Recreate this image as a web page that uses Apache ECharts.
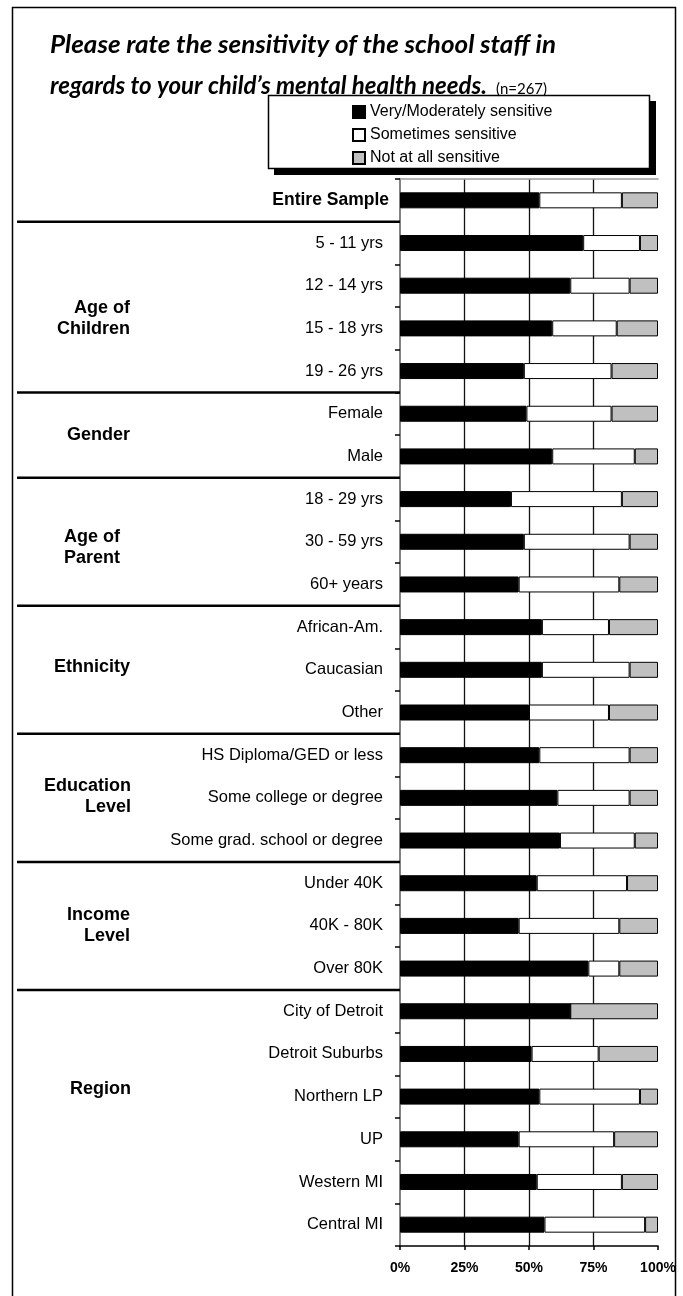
<!DOCTYPE html>
<html>
<head>
<meta charset="utf-8">
<script src="https://cdn.jsdelivr.net/npm/echarts@6/dist/echarts.min.js"></script>
<style>
  html, body { margin: 0; padding: 0; background: #fff; }
  #chart { width: 683px; height: 1296px; }
</style>
</head>
<body>
<div id="chart"></div>
<script>
// Survey responses: sensitivity of school staff to the child's mental health needs (n=267)
const categories = [
  'Entire Sample',
  '5 - 11 yrs', '12 - 14 yrs', '15 - 18 yrs', '19 - 26 yrs',
  'Female', 'Male',
  '18 - 29 yrs', '30 - 59 yrs', '60+ years',
  'African-Am.', 'Caucasian', 'Other',
  'HS Diploma/GED or less', 'Some college or degree', 'Some grad. school or degree',
  'Under 40K', '40K - 80K', 'Over 80K',
  'City of Detroit', 'Detroit Suburbs', 'Northern LP', 'UP', 'Western MI', 'Central MI'
];
const veryModerately = [54, 71, 66, 59, 48, 49, 59, 43, 48, 46, 55, 55, 50, 54, 61, 62, 53, 46, 73, 66, 51, 54, 46, 53, 56];
const sometimes      = [32, 22, 23, 25, 34, 33, 32, 43, 41, 39, 26, 34, 31, 35, 28, 29, 35, 39, 12,  0, 26, 39, 37, 33, 39];
const notAtAll       = [14,  7, 11, 16, 18, 18,  9, 14, 11, 15, 19, 11, 19, 11, 11,  9, 12, 15, 15, 34, 23,  7, 17, 14,  5];
const seriesNames = ['Very/Moderately sensitive', 'Sometimes sensitive', 'Not at all sensitive'];
const xTickLabels = ['0%', '25%', '50%', '75%', '100%'];
const groupNames = ['Age of\nChildren', 'Gender', 'Age of\nParent', 'Ethnicity', 'Education\nLevel', 'Income\nLevel', 'Region'];
const groupFirstIndex = [1, 5, 7, 10, 13, 16, 19];
const titleLines = ['Please rate the sensitivity of the school staff in', 'regards to your child\u2019s mental health needs.'];
const sampleNote = ['(', 'n', '=267)'];

// layout of the group captions (row position on the category axis, right edge x)
const groupLabelRow = [2.78, 5.49, 8.14, 10.93, 13.97, 17.0, 20.83];
const groupLabelRight = [130, 130, 120, 130, 131, 130, 131];

const SANS = '"Liberation Sans", Arial, sans-serif';
const TITLE_FONT = 'italic bold 24px Lato, "Open Sans", sans-serif';
const NOTE_FONT = '15px Lato, "Open Sans", sans-serif';
const chart = echarts.init(document.getElementById('chart'), null, { renderer: 'canvas' });

function barSeries(name, data, color) {
  return {
    name: name,
    type: 'bar',
    stack: 'total',
    data: data,
    barWidth: 16,
    itemStyle: { color: color, borderColor: '#000', borderWidth: 1 },
    emphasis: { disabled: true },
    animation: false
  };
}

const option = {
  animation: false,
  backgroundColor: '#fff',
  grid: { left: 400, right: 25, top: 179, bottom: 50, containLabel: false },
  legend: {
    orient: 'vertical',
    left: 347,
    top: 99,
    itemWidth: 12,
    itemHeight: 12,
    itemGap: 7,
    icon: 'rect',
    selectedMode: false,
    textStyle: { fontFamily: SANS, fontSize: 16, color: '#000' },
    data: seriesNames
  },
  xAxis: [{
    type: 'value',
    min: 0,
    max: 100,
    interval: 25,
    position: 'bottom',
    axisLine: { show: true, lineStyle: { color: '#000', width: 1.5 } },
    axisTick: { show: true, length: 4, lineStyle: { color: '#000', width: 1.5 } },
    axisLabel: {
      margin: 15,
      fontFamily: SANS, fontSize: 14, fontWeight: 'bold', color: '#000',
      formatter: function (v) { return xTickLabels[Math.round(v / 25)]; }
    },
    splitLine: { show: true, showMinLine: false, showMaxLine: false, lineStyle: { color: '#111', width: 1.3 } }
  }, {
    type: 'value',
    min: 0,
    max: 100,
    position: 'top',
    axisLine: { show: true, lineStyle: { color: '#9a9a9a', width: 1.5 } },
    axisTick: { show: false },
    axisLabel: { show: false },
    splitLine: { show: false }
  }],
  yAxis: [{
    type: 'category',
    data: categories,
    inverse: true,
    axisLine: { show: true, lineStyle: { color: '#000', width: 1.5 } },
    axisTick: { show: true, length: 5, lineStyle: { color: '#000', width: 1.5 } },
    axisLabel: {
      margin: 11,
      color: '#000',
      formatter: function (v, i) { return i === 0 ? '{b|' + v + '}' : '{n|' + v + '}'; },
      rich: {
        b: { fontFamily: SANS, fontSize: 17.5, fontWeight: 'bold', color: '#000' },
        n: { fontFamily: SANS, fontSize: 16.5, color: '#000', padding: [0, 6, 0, 0] }
      }
    },
    splitLine: { show: false }
  }, {
    type: 'category',
    data: categories,
    inverse: true,
    position: 'right',
    axisLine: { show: true, lineStyle: { color: '#9a9a9a', width: 1.5 } },
    axisTick: { show: false },
    axisLabel: { show: false },
    splitLine: { show: false }
  }],
  series: [
    barSeries(seriesNames[0], veryModerately, '#000000'),
    barSeries(seriesNames[1], sometimes, '#ffffff'),
    barSeries(seriesNames[2], notAtAll, '#c0c0c0')
  ]
};

chart.setOption(option);

// text measurement for laying out the title block
const measureCtx = document.createElement('canvas').getContext('2d');
function textWidth(text, font) { measureCtx.font = font; return measureCtx.measureText(text).width; }

const titleLeft = 50;
const titleWidths = [506, 437];
const titleY = [45, 86];
const line1Scale = titleWidths[0] / textWidth(titleLines[0], TITLE_FONT);
const line2Scale = titleWidths[1] / textWidth(titleLines[1], TITLE_FONT);
const noteX = titleLeft + titleWidths[1] + 9;
const noteY = 89;
const nStart = noteX + textWidth(sampleNote[0], NOTE_FONT);
const nEnd = nStart + textWidth(sampleNote[1], NOTE_FONT);

// Frame, title, legend box, group separators and group captions
const y0 = chart.convertToPixel({ yAxisIndex: 0 }, 0);
const y1 = chart.convertToPixel({ yAxisIndex: 0 }, 1);
const step = y1 - y0;
const rowY = function (r) { return y0 + r * step; };
const axisX = chart.convertToPixel({ xAxisIndex: 0 }, 0);

const graphics = [
  { type: 'rect', z: -10, shape: { x: 12.5, y: 7.5, width: 663, height: 1300 },
    style: { fill: 'none', stroke: '#000', lineWidth: 1.5 } },
  { type: 'text', z: 1, x: titleLeft, y: titleY[0], scaleX: line1Scale,
    style: { x: 0, y: 0, text: titleLines[0], font: TITLE_FONT, fill: '#000', textVerticalAlign: 'middle' } },
  { type: 'text', z: 1, x: titleLeft, y: titleY[1], scaleX: line2Scale,
    style: { x: 0, y: 0, text: titleLines[1], font: TITLE_FONT, fill: '#000', textVerticalAlign: 'middle' } },
  { type: 'text', z: 1, style: { x: noteX, y: noteY, text: sampleNote.join(''),
    font: NOTE_FONT, fill: '#000', textVerticalAlign: 'middle' } },
  { type: 'line', z: 1, shape: { x1: nStart, y1: noteY + 6.5, x2: nEnd, y2: noteY + 6.5 },
    style: { stroke: '#000', lineWidth: 1 } },
  { type: 'rect', z: 0, shape: { x: 274, y: 101, width: 382, height: 74 }, style: { fill: '#000' } },
  { type: 'rect', z: 0, shape: { x: 268.5, y: 95.5, width: 381, height: 73 },
    style: { fill: '#fff', stroke: '#000', lineWidth: 1.5 } }
];

groupFirstIndex.forEach(function (idx) {
  const y = rowY(idx - 0.5);
  graphics.push({ type: 'line', z: 5, shape: { x1: 17, y1: y, x2: axisX, y2: y },
    style: { stroke: '#000', lineWidth: 2.5 } });
});

groupNames.forEach(function (name, g) {
  graphics.push({ type: 'text', z: 5, style: {
    x: groupLabelRight[g], y: rowY(groupLabelRow[g]), text: name,
    font: 'bold 18px ' + SANS, fill: '#000', textAlign: 'right', textVerticalAlign: 'middle', lineHeight: 21 } });
});

chart.setOption({ graphic: graphics });
</script>
</body>
</html>
